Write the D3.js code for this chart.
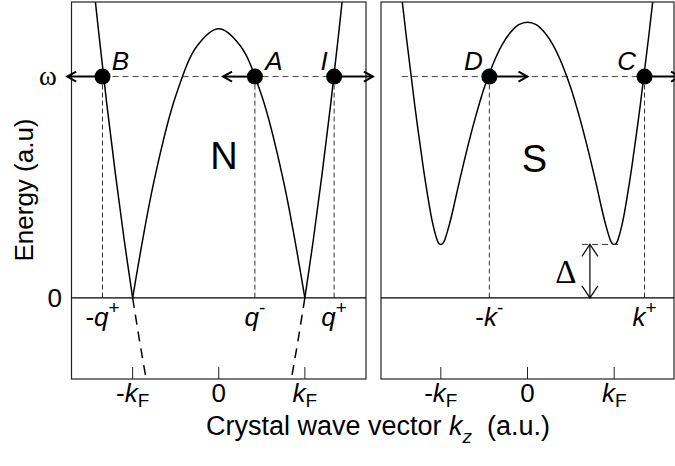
<!DOCTYPE html>
<html>
<head>
<meta charset="utf-8">
<script src="https://cdn.jsdelivr.net/npm/d3@7"></script>
<style>
body{margin:0;background:#fff}
svg{display:block}
text{font-family:"Liberation Sans",Arial,sans-serif;fill:#000}
</style>
</head>
<body>
<svg width="675" height="466"></svg>
<script>
/*
DATI (k in unita di kF, energia in unita arbitrarie)
*/
var omega = 2.73
var gap = 0.66

var kTicks = [-1, 0, 1]
var tickLabels = [["-", "k", "F"], ["0", "", ""], ["", "k", "F"]]

// pannello N: ramo lacune (parabola) e rami elettroni
var holeN = [[-1, 0], [-0.75, 1.45], [-0.5, 2.49], [-0.25, 3.11], [0, 3.32], [0.25, 3.11], [0.5, 2.49], [0.75, 1.45], [1, 0]]
var elecNright = [[1, 0], [1.1, 0.73], [1.2, 1.53], [1.3, 2.39], [1.4, 3.33], [1.5, 4.34]]
var elecNleft = [[-1, 0], [-1.1, 0.73], [-1.2, 1.53], [-1.3, 2.39], [-1.4, 3.33], [-1.5, 4.34]]
var belowNright = [[1, 0], [0.92, -0.53], [0.84, -1.02]]
var belowNleft = [[-1, 0], [-0.92, -0.53], [-0.84, -1.02]]

// pannello S: spettro con gap
var curveS = [[-1.5, 4.18], [-1.4, 3.24], [-1.3, 2.37], [-1.2, 1.59], [-1.15, 1.25], [-1.1, 0.95], [-1.05, 0.74], [-1.025, 0.675], [-1, 0.66],
	[-0.975, 0.674], [-0.95, 0.73], [-0.9, 0.91], [-0.85, 1.13], [-0.8, 1.37], [-0.7, 1.82], [-0.6, 2.23], [-0.5, 2.59], [-0.4, 2.88],
	[-0.3, 3.11], [-0.2, 3.27], [-0.1, 3.37], [0, 3.40], [0.1, 3.37], [0.2, 3.27], [0.3, 3.11], [0.4, 2.88], [0.5, 2.59], [0.6, 2.23],
	[0.7, 1.82], [0.8, 1.37], [0.85, 1.13], [0.9, 0.91], [0.95, 0.73], [0.975, 0.674], [1, 0.66], [1.025, 0.675], [1.05, 0.74],
	[1.1, 0.95], [1.15, 1.25], [1.2, 1.59], [1.3, 2.37], [1.4, 3.24], [1.5, 4.18]]

// punti alla energia omega: nome, k, fine della freccia, etichetta sotto
var pointsN = [
	{name: "B", k: -1.35, to: -1.76, cut: ["-", "q", "+"]},
	{name: "A", k: 0.42, to: 0.05, cut: ["", "q", "-"]},
	{name: "I", k: 1.34, to: 1.79, cut: ["", "q", "+"]}
]
var pointsS = [
	{name: "D", k: -0.44, to: 0, cut: ["-", "k", "-"]},
	{name: "C", k: 1.35, to: 1.76, cut: ["", "k", "+"]}
]

/*
DISEGNO
*/
var svg = d3.select("svg")
var top0 = 2, bottom0 = 379

var y = d3.scaleLinear().domain([-1, 3.65]).range([bottom0, top0])
var xN = d3.scaleLinear().domain([-1.71, 1.71]).range([71.5, 366])
var xS = d3.scaleLinear().domain([-1.69, 1.69]).range([381, 674])

var labelDx = {B: 18, A: 19, I: -10, D: -16, C: -18}

// frecce
var defs = svg.append("defs")
defs.append("marker")
	.attr("id", "freccia")
	.attr("viewBox", "-12 -7 14 14")
	.attr("refX", 0).attr("refY", 0)
	.attr("markerWidth", 14).attr("markerHeight", 14)
	.attr("markerUnits", "userSpaceOnUse")
	.attr("orient", "auto")
	.append("path")
	.attr("d", "M-9,-5L0,0L-9,5")
	.attr("fill", "none").attr("stroke", "black").attr("stroke-width", 2)
defs.append("marker")
	.attr("id", "frecciaSottile")
	.attr("viewBox", "-14 -10 16 20")
	.attr("refX", 0).attr("refY", 0)
	.attr("markerWidth", 16).attr("markerHeight", 20)
	.attr("markerUnits", "userSpaceOnUse")
	.attr("orient", "auto-start-reverse")
	.append("path")
	.attr("d", "M-12,-8L0,0L-12,8")
	.attr("fill", "none").attr("stroke", "black").attr("stroke-width", 1.2)

function linea(x) {
	return d3.line().x(function(d){ return x(d[0]) }).y(function(d){ return y(d[1]) })
}

function apice(sel, parts) {
	sel.append("tspan").text(parts[0])
	sel.append("tspan").attr("font-style", "italic").text(parts[1])
	sel.append("tspan").attr("dy", -12).attr("font-size", 19).text(parts[2])
}

function disegnaPannello(x, id, curves, dashed, points, dashFrom) {
	var g = svg.append("g")
	var r0 = x.range()

	defs.append("clipPath").attr("id", id)
		.append("rect").attr("x", r0[0]).attr("y", top0).attr("width", r0[1] - r0[0]).attr("height", bottom0 - top0)

	// riga tratteggiata a omega
	g.append("line")
		.attr("x1", x(dashFrom)).attr("x2", x(points[points.length - 1].k))
		.attr("y1", y(omega)).attr("y2", y(omega))
		.attr("stroke", "#444").attr("stroke-width", 1).attr("stroke-dasharray", "6,4")

	// verticali tratteggiate
	g.selectAll(".vert").data(points).enter().append("line")
		.attr("x1", function(d){ return x(d.k) }).attr("x2", function(d){ return x(d.k) })
		.attr("y1", y(omega)).attr("y2", y(0))
		.attr("stroke", "#333").attr("stroke-width", 1).attr("stroke-dasharray", "5,3")

	// curve
	var cg = g.append("g").attr("clip-path", "url(#" + id + ")")
	cg.selectAll(".curva").data(curves).enter().append("path")
		.attr("d", function(d){ return linea(x).curve(d3.curveCatmullRom)(d) })
		.attr("fill", "none").attr("stroke", "black").attr("stroke-width", 1.5)
	cg.selectAll(".sotto").data(dashed).enter().append("path")
		.attr("d", function(d){ return linea(x)(d) })
		.attr("fill", "none").attr("stroke", "black").attr("stroke-width", 1.5).attr("stroke-dasharray", "10,7")

	// bordo, asse zero, tacche
	g.append("rect")
		.attr("x", r0[0]).attr("y", top0).attr("width", r0[1] - r0[0]).attr("height", bottom0 - top0)
		.attr("fill", "none").attr("stroke", "#222").attr("stroke-width", 1.2)
	g.append("line")
		.attr("x1", r0[0]).attr("x2", r0[1]).attr("y1", y(0)).attr("y2", y(0))
		.attr("stroke", "black").attr("stroke-width", 1.3)
	g.selectAll(".tacca").data(kTicks).enter().append("line")
		.attr("x1", function(d){ return x(d) }).attr("x2", function(d){ return x(d) })
		.attr("y1", bottom0).attr("y2", bottom0 - 12)
		.attr("stroke", "#222").attr("stroke-width", 1)
	g.selectAll(".tick").data(kTicks).enter().append("text")
		.attr("x", function(d){ return x(d) }).attr("y", 402)
		.attr("text-anchor", "middle").attr("font-size", 26)
		.each(function(d, i){
			var t = d3.select(this), p = tickLabels[i]
			t.append("tspan").text(p[0])
			t.append("tspan").attr("font-style", "italic").text(p[1])
			t.append("tspan").attr("dy", 5).attr("font-size", 19).text(p[2])
		})

	// frecce e punti
	g.selectAll(".freccia").data(points).enter().append("line")
		.attr("x1", function(d){ return x(d.k) }).attr("x2", function(d){ return x(d.to) })
		.attr("y1", y(omega)).attr("y2", y(omega))
		.attr("stroke", "black").attr("stroke-width", 2)
		.attr("marker-end", "url(#freccia)")
	g.selectAll(".punto").data(points).enter().append("circle")
		.attr("cx", function(d){ return x(d.k) }).attr("cy", y(omega)).attr("r", 8)
		.attr("fill", "black")
	g.selectAll(".nome").data(points).enter().append("text")
		.attr("x", function(d){ return x(d.k) + labelDx[d.name] }).attr("y", y(omega) - 7)
		.attr("text-anchor", "middle").attr("font-size", 26).attr("font-style", "italic")
		.text(function(d){ return d.name })
	g.selectAll(".cut").data(points).enter().append("text")
		.attr("x", function(d){ return x(d.k) }).attr("y", 326)
		.attr("text-anchor", "middle").attr("font-size", 26)
		.each(function(d){ apice(d3.select(this), d.cut) })
	return g
}

var gN = disegnaPannello(xN, "clipN", [holeN, elecNright, elecNleft], [belowNright, belowNleft], pointsN, -1.35)
var gS = disegnaPannello(xS, "clipS", [curveS], [], pointsS, -1.45)

// lettere N e S
gN.append("text").attr("x", xN(0.06)).attr("y", 169).attr("text-anchor", "middle").attr("font-size", 38).text("N")
gS.append("text").attr("x", xS(0.08)).attr("y", 172).attr("text-anchor", "middle").attr("font-size", 38).text("S")

// gap Delta
gS.append("line")
	.attr("x1", xS(0.63)).attr("x2", xS(1.09)).attr("y1", y(gap)).attr("y2", y(gap))
	.attr("stroke", "#333").attr("stroke-width", 1).attr("stroke-dasharray", "6,4")
gS.append("line")
	.attr("x1", xS(0.72)).attr("x2", xS(0.72)).attr("y1", y(gap)).attr("y2", y(0))
	.attr("stroke", "black").attr("stroke-width", 1.2)
	.attr("marker-start", "url(#frecciaSottile)").attr("marker-end", "url(#frecciaSottile)")
gS.append("text")
	.attr("x", xS(0.72) - 24).attr("y", 283)
	.attr("text-anchor", "middle").attr("font-size", 33)
	.style("font-family", "'Liberation Serif','Times New Roman',serif")
	.text("\u0394")

// asse y
svg.append("text").attr("x", 48).attr("y", y(omega) + 8)
	.attr("text-anchor", "middle").attr("font-size", 27)
	.style("font-family", "'Liberation Serif','Times New Roman',serif")
	.text("\u03c9")
svg.append("text").attr("x", 62).attr("y", y(0) + 9)
	.attr("text-anchor", "end").attr("font-size", 26).text("0")
svg.append("text")
	.attr("transform", "translate(33," + 190 + ") rotate(-90)")
	.attr("text-anchor", "middle").attr("font-size", 26)
	.text("Energy (a.u)")

// asse x
var titolo = svg.append("text").attr("x", 378).attr("y", 435)
	.attr("text-anchor", "middle").attr("font-size", 27)
titolo.append("tspan").text("Crystal wave vector ")
titolo.append("tspan").attr("font-style", "italic").text("k")
titolo.append("tspan").attr("font-style", "italic").attr("dy", 8).attr("font-size", 19).text("z")
titolo.append("tspan").attr("dy", -8).text("\u00a0 (a.u.)")
</script>
</body>
</html>
